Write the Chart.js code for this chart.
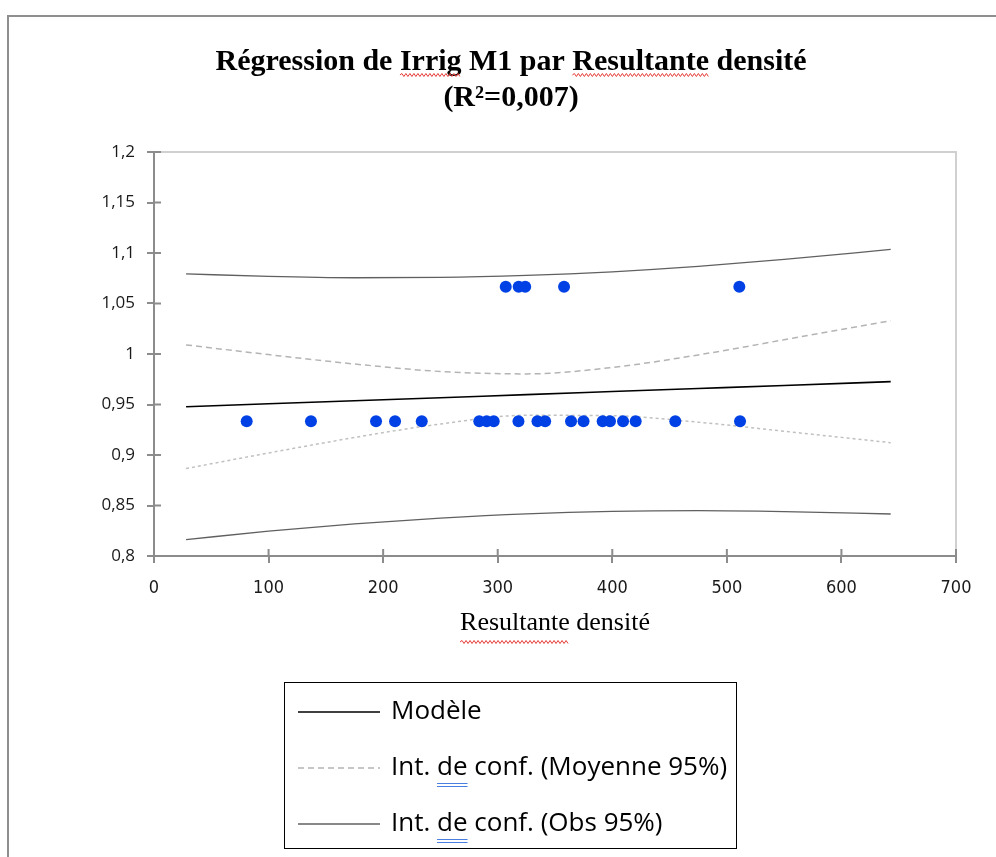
<!DOCTYPE html>
<html>
<head>
<meta charset="utf-8">
<script src="https://cdn.jsdelivr.net/npm/chart.js@4.4.1/dist/chart.umd.min.js"></script>
<style>
  html, body { margin: 0; padding: 0; background: #fff; }
  #wrap { width: 996px; height: 857px; position: relative; }
</style>
</head>
<body>
<div id="wrap"><canvas id="chart" width="996" height="857"></canvas></div>
<script>
// observations (Resultante densité, Irrig M1)
const obsX = [80.9, 137, 193.8, 210.4, 233.7, 283.9, 290.4, 296.5, 318.1, 334.7, 341.4, 364, 374.9,
              391.6, 398, 409.4, 420.4, 455, 511.5,
              307, 318.3, 324, 357.9, 510.9];
const obsY = [0.9333, 0.9333, 0.9333, 0.9333, 0.9333, 0.9333, 0.9333, 0.9333, 0.9333, 0.9333, 0.9333, 0.9333, 0.9333,
              0.9333, 0.9333, 0.9333, 0.9333, 0.9333, 0.9333,
              1.0667, 1.0667, 1.0667, 1.0667, 1.0667];

// model line and confidence bands
const curveX   = [28, 100, 175, 250, 325, 400, 475, 550, 643];
const modele   = [0.9478, 0.9507, 0.9537, 0.9567, 0.9598, 0.9628, 0.9658, 0.9688, 0.9726];
const moyHaut  = [1.009, 0.9994, 0.9901, 0.9827, 0.9803, 0.9867, 0.9991, 1.0141, 1.033];
const moyBas   = [0.8866, 0.902, 0.9173, 0.9307, 0.9393, 0.9389, 0.9325, 0.9235, 0.9122];
const obsHaut  = [1.0794, 1.0768, 1.0755, 1.0758, 1.0778, 1.0814, 1.0867, 1.0936, 1.1036];
const obsBas   = [0.8162, 0.8246, 0.8319, 0.8376, 0.8418, 0.8442, 0.8449, 0.844, 0.8416];

// axes
const xTicks = [0, 100, 200, 300, 400, 500, 600, 700];
const xTickLabels = ['0', '100', '200', '300', '400', '500', '600', '700'];
const yTicks = [0.8, 0.85, 0.9, 0.95, 1, 1.05, 1.1, 1.15, 1.2];
const yTickLabels = ['0,8', '0,85', '0,9', '0,95', '1', '1,05', '1,1', '1,15', '1,2'];

const titleLines = ['Régression de Irrig M1 par Resultante densité', '(R²=0,007)'];
const xTitle = 'Resultante densité';

const pts = (xs, ys) => xs.map((x, i) => ({ x: x, y: ys[i] }));

function lineSet(label, ys, color, width, dash, legend) {
  return {
    type: 'scatter', label: label, data: pts(curveX, ys), showLine: true,
    borderColor: color, borderWidth: width, borderDash: dash, pointRadius: 0,
    cubicInterpolationMode: 'monotone', legend: legend
  };
}

function wavy(ctx, x1, x2, y) {
  ctx.save();
  ctx.strokeStyle = '#e53935';
  ctx.lineWidth = 1;
  ctx.beginPath();
  let up = true;
  ctx.moveTo(x1, y);
  for (let x = x1 + 2; x <= x2; x += 2) {
    ctx.lineTo(x, up ? y - 1.5 : y + 1.5);
    up = !up;
  }
  ctx.stroke();
  ctx.restore();
}

const decor = {
  id: 'decor',
  beforeDraw(chart) {
    const { ctx, chartArea: a } = chart;
    ctx.save();
    // outer frame
    ctx.strokeStyle = '#8f8f8f';
    ctx.lineWidth = 2;
    ctx.strokeRect(8, 16, 1200, 1200);
    // plot area box
    ctx.strokeStyle = '#d0d0d0';
    ctx.lineWidth = 2;
    ctx.strokeRect(a.left, a.top, a.right - a.left, a.bottom - a.top);
    ctx.restore();
  },
  afterDraw(chart) {
    const { ctx, chartArea: a } = chart;
    const xs = chart.scales.x, ys = chart.scales.y;
    ctx.save();
    // tick marks inside the plot
    ctx.strokeStyle = '#8c8c8c';
    ctx.lineWidth = 2;
    ctx.beginPath();
    ys.ticks.forEach((t, i) => {
      const y = ys.getPixelForTick(i);
      ctx.moveTo(a.left, y); ctx.lineTo(a.left + 7, y);
    });
    xs.ticks.forEach((t, i) => {
      const x = xs.getPixelForTick(i);
      ctx.moveTo(x, a.bottom); ctx.lineTo(x, a.bottom - 7);
    });
    ctx.stroke();

    // title spell-check marks
    const tb = chart.titleBlock;
    const tf = Chart.helpers.toFont(chart.options.plugins.title.font);
    ctx.font = tf.string;
    const cx = (tb.left + tb.right) / 2;
    const line1 = titleLines[0];
    const x0 = cx - ctx.measureText(line1).width / 2;
    const ty = tb.top + chart.options.plugins.title.padding.top + tf.lineHeight / 2 + 13;
    ['Irrig', 'Resultante'].forEach(w => {
      const i = line1.indexOf(w);
      const wx = x0 + ctx.measureText(line1.slice(0, i)).width;
      wavy(ctx, wx, wx + ctx.measureText(w).width, ty);
    });

    // x title spell-check mark
    const xf = Chart.helpers.toFont(xs.options.title.font);
    ctx.font = xf.string;
    const xcx = (xs.left + xs.right) / 2;
    const xx0 = xcx - ctx.measureText(xTitle).width / 2;
    wavy(ctx, xx0, xx0 + ctx.measureText('Resultante').width, xs.bottom - 1);

    // legend box
    const lg = { x: 284, y: 682, w: 452, h: 166, rows: [712, 768, 824], l1: 298, l2: 380, tx: 391 };
    ctx.strokeStyle = '#000';
    ctx.lineWidth = 1;
    ctx.setLineDash([]);
    ctx.strokeRect(lg.x + 0.5, lg.y + 0.5, lg.w, lg.h);
    chart.data.datasets.filter(d => d.legend).forEach((d, i) => {
      const y = lg.rows[i];
      ctx.strokeStyle = d.borderColor;
      ctx.lineWidth = d.borderWidth;
      ctx.setLineDash(d.borderDash || []);
      ctx.beginPath();
      ctx.moveTo(lg.l1, y); ctx.lineTo(lg.l2, y);
      ctx.stroke();
      ctx.setLineDash([]);
      ctx.fillStyle = '#000';
      ctx.font = "26px 'Open Sans'";
      ctx.textBaseline = 'middle';
      ctx.fillText(d.label, lg.tx, y);
      const k = d.label.indexOf(' de ');
      if (k >= 0) {
        const ux = lg.tx + ctx.measureText(d.label.slice(0, k + 1)).width;
        const uw = ctx.measureText('de').width;
        ctx.strokeStyle = '#4a7fe0';
        ctx.lineWidth = 1;
        ctx.beginPath();
        ctx.moveTo(ux, y + 15.5); ctx.lineTo(ux + uw, y + 15.5);
        ctx.moveTo(ux, y + 18.5); ctx.lineTo(ux + uw, y + 18.5);
        ctx.stroke();
      }
    });
    ctx.restore();
  }
};

new Chart(document.getElementById('chart'), {
  type: 'scatter',
  data: {
    datasets: [
      { label: 'Observations', data: pts(obsX, obsY), pointRadius: 6, pointHoverRadius: 6,
        backgroundColor: '#0041e6', borderColor: '#0041e6', borderWidth: 0 },
      lineSet('Modèle', modele, '#000000', 1.6, [], true),
      lineSet('Int. de conf. (Moyenne 95%)', moyHaut, '#b4b4b4', 1.5, [6, 4], true),
      lineSet('Int. de conf. (Moyenne 95%)', moyBas, '#c0c0c0', 1.5, [3, 3], false),
      lineSet('Int. de conf. (Obs 95%)', obsHaut, '#606060', 1.3, [], true),
      lineSet('Int. de conf. (Obs 95%)', obsBas, '#606060', 1.3, [], false)
    ]
  },
  options: {
    responsive: false,
    animation: false,
    layout: { padding: { top: 30, left: 66, right: 40, bottom: 214 } },
    plugins: {
      legend: { display: false },
      tooltip: { enabled: false },
      title: {
        display: true,
        text: titleLines,
        color: '#000',
        font: { family: "'Liberation Serif', 'Times New Roman', serif", size: 30, weight: 'bold', lineHeight: 1.2 },
        padding: { top: 14, bottom: 36 }
      }
    },
    scales: {
      x: {
        type: 'linear', min: 0, max: 700,
        afterBuildTicks: s => { s.ticks = xTicks.map(v => ({ value: v })); },
        afterFit: s => { s.height = 87; },
        ticks: { callback: (v, i) => xTickLabels[i], color: '#1a1a1a', padding: 15,
                 font: { family: "'Liberation Sans Narrow', 'DejaVu Sans Condensed', sans-serif", size: 18 } },
        grid: { drawOnChartArea: false, drawTicks: true, tickLength: 7, color: '#8c8c8c', lineWidth: 2 },
        border: { color: '#8c8c8c', width: 2 },
        title: { display: true, text: xTitle, color: '#000', padding: { top: 4, bottom: 4 },
                 font: { family: "'Liberation Serif', 'Times New Roman', serif", size: 26 } }
      },
      y: {
        type: 'linear', min: 0.8, max: 1.2,
        afterBuildTicks: s => { s.ticks = yTicks.map(v => ({ value: v })); },
        afterFit: s => { s.width = 88; },
        ticks: { callback: (v, i) => yTickLabels[i], color: '#1a1a1a', padding: 12,
                 font: { family: "'Open Sans'", size: 17 } },
        grid: { drawOnChartArea: false, drawTicks: true, tickLength: 7, color: '#8c8c8c', lineWidth: 2 },
        border: { color: '#8c8c8c', width: 2 }
      }
    }
  },
  plugins: [decor]
});
</script>
</body>
</html>
